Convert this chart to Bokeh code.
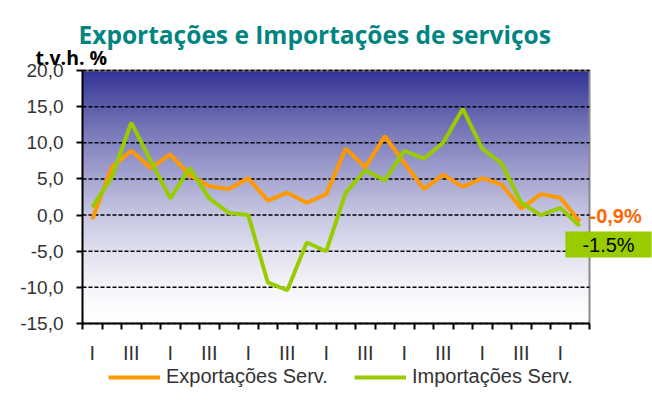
import numpy as np
from bokeh.plotting import figure
from bokeh.models import Range1d, FixedTicker, Label, Legend, LegendItem, LinearAxis
from bokeh.embed import file_html
from bokeh.resources import INLINE

# ---- data ----
quarters = ["I", "II", "III", "IV"] * 6 + ["I", "II"]
exportacoes = [-0.6, 6.6, 8.9, 6.5, 8.4, 5.5, 4.0, 3.6, 5.1, 2.0, 3.1, 1.7, 2.9,
               9.2, 6.6, 10.9, 7.2, 3.6, 5.6, 3.9, 5.1, 4.2, 0.9, 2.9, 2.4, -0.9]
importacoes = [1.1, 5.2, 12.8, 7.5, 2.3, 6.5, 2.3, 0.3, 0.0, -9.3, -10.4, -3.8, -5.0,
               3.1, 6.2, 4.8, 8.9, 7.8, 10.0, 14.7, 9.2, 7.1, 1.7, 0.0, 1.0, -1.5]
y_ticks = [-15, -10, -5, 0, 5, 10, 15, 20]
title_text = "Exportações e Importações de serviços"
unit_text = "t.v.h. %"
last_exp_label = "-0,9%"
last_imp_label = "-1.5%"

n = len(quarters)
xs = list(range(n))

# ---- layout (pixels) ----
W, H = 652, 408
left_px, right_px, top_px, bottom_px = 82, 589, 70, 323
x0, x1 = -0.5, n - 0.5
y0, y1 = y_ticks[0], y_ticks[-1]
xs_per_px = (x1 - x0) / (right_px - left_px)
ys_per_px = (y1 - y0) / (bottom_px - top_px)
x_range = Range1d(x0 - left_px * xs_per_px, x1 + (W - right_px) * xs_per_px)
y_range = Range1d(y0 - (H - bottom_px) * ys_per_px, y1 + top_px * ys_per_px)

p = figure(width=W, height=H, x_range=x_range, y_range=y_range, title=None,
           output_backend="svg", toolbar_location=None,
           min_border=0, x_axis_type=None, y_axis_type=None)
p.background_fill_color = "white"
p.border_fill_color = "white"
p.outline_line_color = None
p.xgrid.visible = False
p.ygrid.visible = False

# gradient background
rows = 256
t = np.linspace(0, 1, rows) ** 1.5
top = np.array([51, 51, 150], dtype=float)
rgb = 255 - (255 - top)[None, :] * t[:, None]
img = np.zeros((rows, 1), dtype=np.uint32)
view = img.view(dtype=np.uint8).reshape((rows, 1, 4))
view[:, 0, 0:3] = np.round(rgb).astype(np.uint8)
view[:, 0, 3] = 255
p.image_rgba(image=[img], x=x0, y=y0, dw=x1 - x0, dh=y1 - y0, level="image")

# plot-area border (top & right) and dashed grid
p.line([x0, x1, x1], [y1, y1, y0], line_color="#8a8a8a", line_width=2)
p.segment(x0=[x0] * len(y_ticks), x1=[x1] * len(y_ticks), y0=y_ticks, y1=y_ticks,
          line_color="black", line_dash="4 2", line_width=1.5)

# y axis
yaxis = LinearAxis(fixed_location=x0, bounds=(y0, y1), ticker=FixedTicker(ticks=y_ticks))
yaxis.major_label_overrides = {v: f"{v:.1f}".replace(".", ",") for v in y_ticks}
yaxis.major_tick_out = 6
yaxis.major_tick_in = 0
yaxis.minor_tick_out = 0
yaxis.minor_tick_in = 0
yaxis.axis_line_width = 2
yaxis.major_tick_line_width = 2
yaxis.major_label_standoff = 13
yaxis.major_label_text_font = "Liberation Sans"
yaxis.major_label_text_font_size = "19px"
yaxis.major_label_text_color = "#333333"
p.add_layout(yaxis, "left")

# x axis
xaxis = LinearAxis(fixed_location=y0, bounds=(x0, x1),
                   ticker=FixedTicker(ticks=[i for i in xs if i % 2 == 0],
                                      minor_ticks=[i - 0.5 for i in range(n + 1)]))
xaxis.major_label_overrides = {i: quarters[i] for i in xs if i % 2 == 0}
xaxis.major_tick_out = 0
xaxis.major_tick_in = 0
xaxis.minor_tick_out = 6
xaxis.minor_tick_in = 0
xaxis.minor_tick_line_width = 2
xaxis.axis_line_width = 2
xaxis.major_label_standoff = 12
xaxis.major_label_text_font = "Liberation Sans"
xaxis.major_label_text_font_size = "20px"
xaxis.major_label_text_color = "#333333"
p.add_layout(xaxis, "below")

# lines
r_exp = p.line(xs, exportacoes, line_color="#FF9900", line_width=4)
r_imp = p.line(xs, importacoes, line_color="#99CC00", line_width=4)

legend = Legend(items=[LegendItem(label="Exportações Serv.", renderers=[r_exp]),
                       LegendItem(label="Importações Serv.", renderers=[r_imp])],
                location=(108, 20), orientation="horizontal",
                glyph_width=52, glyph_height=20, label_standoff=6, spacing=26,
                padding=0, margin=0, border_line_alpha=0, background_fill_alpha=0,
                label_text_font="Liberation Sans", label_text_font_size="20px",
                label_text_color="#333333")
p.add_layout(legend)

# titles (screen units: x from left, y from bottom)
p.add_layout(Label(x=78, y=H - 34.3, x_units="screen", y_units="screen", text=title_text,
                   text_font="Open Sans", text_font_style="bold", text_font_size="24.5px",
                   text_color="#008580", text_baseline="alphabetic"))
p.add_layout(Label(x=35, y=H - 56.7, x_units="screen", y_units="screen", text=unit_text,
                   text_font="Open Sans", text_font_style="bold", text_font_size="19.5px",
                   text_color="black", text_baseline="alphabetic"))

# end labels
p.add_layout(Label(x=x1, y=exportacoes[-1], x_offset=0, y_offset=6,
                   text=last_exp_label, text_color="#FF6600",
                   text_font="Liberation Sans", text_font_style="bold", text_font_size="20px",
                   text_align="left", text_baseline="middle"))
p.add_layout(Label(x=x1, y=importacoes[-1], x_offset=19, y_offset=-18.7,
                   text=last_imp_label, text_color="black",
                   text_font="Liberation Sans", text_font_size="20px",
                   text_align="center", text_baseline="middle",
                   background_fill_color="#99CC00", padding=(17, 2)))

open("out.html", "w").write(file_html(p, INLINE))
